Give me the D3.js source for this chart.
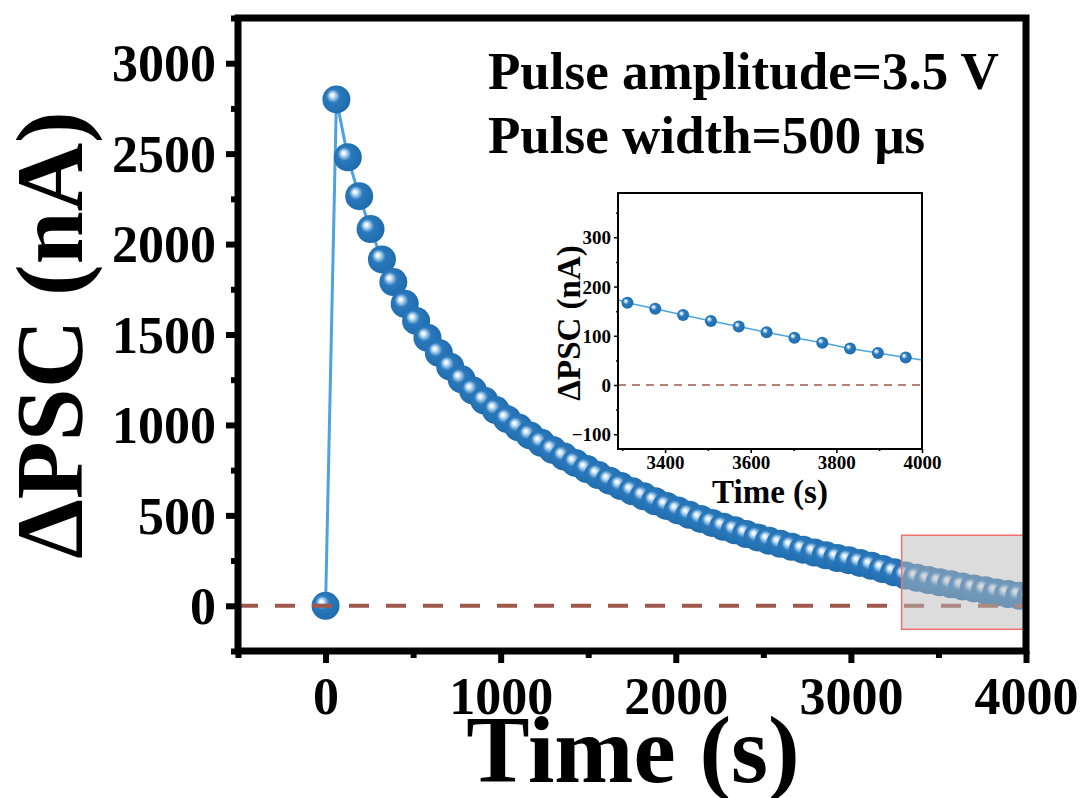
<!DOCTYPE html>
<html>
<head>
<meta charset="utf-8">
<script src="https://cdn.jsdelivr.net/npm/d3@7"></script>
<style>
  body { margin: 0; background: #fff; }
  text { font-family: "Liberation Serif", "Times New Roman", serif; font-weight: bold; }
</style>
</head>
<body>
<div id="chart"></div>
<script>
/***** data *****/
var times = [0, 62, 127, 192, 257, 322, 387, 452, 517, 582, 647, 712, 777, 842, 907, 972,
  1037, 1102, 1167, 1232, 1297, 1362, 1427, 1492, 1557, 1622, 1687, 1752, 1817, 1882, 1947,
  2012, 2077, 2142, 2207, 2272, 2337, 2402, 2467, 2532, 2597, 2662, 2727, 2792, 2857, 2922,
  2987, 3052, 3117, 3182, 3247, 3312, 3377, 3442, 3507, 3572, 3637, 3702, 3767, 3832, 3897,
  3962, 4027];
var psc = [0, 2800, 2480, 2265, 2083, 1915, 1790, 1670, 1575, 1482, 1398, 1322, 1252, 1190,
  1134, 1082, 1032, 986, 942, 901, 862, 825, 790, 756, 723, 692, 662, 633, 605, 578, 552,
  527, 503, 480, 458, 437, 417, 397, 378, 360, 343, 326, 310, 294, 279, 264, 252, 237, 221,
  203, 185, 167, 155, 142, 130, 119, 107, 96, 86, 74, 65, 56, 47];

var xTicks = [0, 1000, 2000, 3000, 4000];
var xMinor = [-500, 500, 1500, 2500, 3500];
var yTicks = [0, 500, 1000, 1500, 2000, 2500, 3000];
var yMinor = [-250, 250, 750, 1250, 1750, 2250, 2750, 3250];

var insetXTicks = [3400, 3600, 3800, 4000];
var insetXMinor = [3300, 3500, 3700, 3900];
var insetYTicks = [-100, 0, 100, 200, 300];
var insetYMinor = [-50, 50, 150, 250, 350];

var notes = ["Pulse amplitude=3.5 V", "Pulse width=500 \u03bcs"];

var data = times.map(function(t, i) { return {t: t, v: psc[i]}; });

/***** svg *****/
var W = 1086, H = 798;
var svg = d3.select("#chart").append("svg")
  .attr("width", W)
  .attr("height", H);

// sphere gradient for markers
var defs = svg.append("defs");
var grad = defs.append("radialGradient")
  .attr("id", "ball")
  .attr("cx", "0.45").attr("cy", "0.45").attr("r", "0.58")
  .attr("fx", "0.34").attr("fy", "0.34");
grad.append("stop").attr("offset", "0").attr("stop-color", "#ffffff");
grad.append("stop").attr("offset", "0.1").attr("stop-color", "#eaf3fb");
grad.append("stop").attr("offset", "0.26").attr("stop-color", "#86b8e0");
grad.append("stop").attr("offset", "0.42").attr("stop-color", "#2a79bc");
grad.append("stop").attr("offset", "1").attr("stop-color", "#1e6bac");

var fmt = d3.format("d");

/************ main chart ************/
var x = d3.scaleLinear().domain([-500, 4000]).range([238, 1026]);
var y = d3.scaleLinear().domain([-250, 3250]).range([651, 18]);

defs.append("clipPath").attr("id", "mainClip")
  .append("rect")
  .attr("x", x(-500)).attr("y", y(3250))
  .attr("width", x(4000) - x(-500)).attr("height", y(-250) - y(3250));

var plot = svg.append("g").attr("clip-path", "url(#mainClip)");

var line = d3.line()
  .x(function(d) { return x(d.t); })
  .y(function(d) { return y(d.v); });

plot.append("path")
  .datum(data)
  .attr("d", line)
  .attr("fill", "none")
  .attr("stroke", "#4da3e0")
  .attr("stroke-width", 3);

plot.selectAll("circle.pt")
  .data(data)
  .enter()
  .append("circle")
  .attr("class", "pt")
  .attr("cx", function(d) { return x(d.t); })
  .attr("cy", function(d) { return y(d.v); })
  .attr("r", 14)
  .attr("fill", "url(#ball)");

// zero line
plot.append("line")
  .attr("x1", x(-500)).attr("x2", x(4000))
  .attr("y1", y(0)).attr("y2", y(0))
  .attr("stroke", "#a0584c")
  .attr("stroke-width", 4)
  .attr("stroke-dasharray", "20,17");

// zoom box (inset domain)
var insetXDomain = [3290, 4000];
var insetYDomain = [-130, 390];
plot.append("rect")
  .attr("x", x(insetXDomain[0]))
  .attr("y", y(insetYDomain[1]))
  .attr("width", x(insetXDomain[1]) - x(insetXDomain[0]))
  .attr("height", y(insetYDomain[0]) - y(insetYDomain[1]))
  .attr("fill", "rgb(185,185,185)")
  .attr("fill-opacity", 0.5)
  .attr("stroke", "#f07070")
  .attr("stroke-width", 1.5);

// axes
var xAxis = d3.axisBottom(x).tickValues(xTicks).tickSize(12).tickPadding(14).tickFormat(fmt);
var xAxisMinor = d3.axisBottom(x).tickValues(xMinor).tickSize(7).tickFormat("");
var yAxis = d3.axisLeft(y).tickValues(yTicks).tickSize(12).tickPadding(10).tickFormat(fmt);
var yAxisMinor = d3.axisLeft(y).tickValues(yMinor).tickSize(7).tickFormat("");

function styleAxis(g, fs) {
  g.select(".domain").remove();
  g.selectAll("line").attr("stroke", "#000");
  g.selectAll("text").attr("fill", "#000").style("font-size", fs + "px");
}

svg.append("g").attr("transform", "translate(0," + y(-250) + ")").call(xAxis)
  .call(styleAxis, 52)
  .call(function(g) { g.selectAll("line").attr("stroke-width", 6); });
svg.append("g").attr("transform", "translate(0," + y(-250) + ")").call(xAxisMinor)
  .call(styleAxis, 52)
  .call(function(g) { g.selectAll("line").attr("stroke-width", 6); });
svg.append("g").attr("transform", "translate(" + x(-500) + ",0)").call(yAxis)
  .call(styleAxis, 52)
  .call(function(g) { g.selectAll("line").attr("stroke-width", 6); g.selectAll("text").attr("dy", "0.34em"); });
svg.append("g").attr("transform", "translate(" + x(-500) + ",0)").call(yAxisMinor)
  .call(styleAxis, 52)
  .call(function(g) { g.selectAll("line").attr("stroke-width", 6); });

// frame
svg.append("rect")
  .attr("x", x(-500)).attr("y", y(3250))
  .attr("width", x(4000) - x(-500)).attr("height", y(-250) - y(3250))
  .attr("fill", "none")
  .attr("stroke", "#000")
  .attr("stroke-width", 7);

// axis titles
svg.append("text")
  .attr("x", 633).attr("y", 782)
  .attr("text-anchor", "middle")
  .style("font-size", "95px")
  .text("Time (s)");
svg.append("text")
  .attr("transform", "translate(82,335) rotate(-90)")
  .attr("text-anchor", "middle")
  .style("font-size", "95px")
  .text("\u0394PSC (nA)");

// annotations
svg.selectAll("text.note")
  .data(notes)
  .enter()
  .append("text")
  .attr("class", "note")
  .attr("x", 488)
  .attr("y", function(d, i) { return 89 + i * 64; })
  .style("font-size", "53px")
  .text(function(d) { return d; });

/************ inset ************/
var xi = d3.scaleLinear().domain(insetXDomain).range([618, 922]);
var yi = d3.scaleLinear().domain(insetYDomain).range([449, 193]);

svg.append("rect")
  .attr("x", xi(insetXDomain[0])).attr("y", yi(insetYDomain[1]))
  .attr("width", xi(insetXDomain[1]) - xi(insetXDomain[0]))
  .attr("height", yi(insetYDomain[0]) - yi(insetYDomain[1]))
  .attr("fill", "#fff");

defs.append("clipPath").attr("id", "insetClip")
  .append("rect")
  .attr("x", xi(insetXDomain[0])).attr("y", yi(insetYDomain[1]))
  .attr("width", xi(insetXDomain[1]) - xi(insetXDomain[0]))
  .attr("height", yi(insetYDomain[0]) - yi(insetYDomain[1]));

var inset = svg.append("g").attr("clip-path", "url(#insetClip)");

var lineI = d3.line()
  .x(function(d) { return xi(d.t); })
  .y(function(d) { return yi(d.v); });

inset.append("line")
  .attr("x1", xi(insetXDomain[0])).attr("x2", xi(insetXDomain[1]))
  .attr("y1", yi(0)).attr("y2", yi(0))
  .attr("stroke", "#a0584c")
  .attr("stroke-width", 1.5)
  .attr("stroke-dasharray", "8,6");

inset.append("path")
  .datum(data)
  .attr("d", lineI)
  .attr("fill", "none")
  .attr("stroke", "#4da3e0")
  .attr("stroke-width", 1.5);

inset.selectAll("circle")
  .data(data.filter(function(d) { return d.t >= insetXDomain[0] && d.t <= insetXDomain[1]; }))
  .enter()
  .append("circle")
  .attr("cx", function(d) { return xi(d.t); })
  .attr("cy", function(d) { return yi(d.v); })
  .attr("r", 6)
  .attr("fill", "url(#ball)");

var xiAxis = d3.axisBottom(xi).tickValues(insetXTicks).tickSize(4).tickPadding(3).tickFormat(fmt);
var xiMinor = d3.axisBottom(xi).tickValues(insetXMinor).tickSize(2).tickFormat("");
var yiAxis = d3.axisLeft(yi).tickValues(insetYTicks).tickSize(4).tickPadding(3).tickFormat(fmt);
var yiMinor = d3.axisLeft(yi).tickValues(insetYMinor).tickSize(2).tickFormat("");

[xiAxis, xiMinor].forEach(function(a) {
  svg.append("g").attr("transform", "translate(0," + yi(insetYDomain[0]) + ")").call(a)
    .call(styleAxis, 19)
    .call(function(g) { g.selectAll("line").attr("stroke-width", 1.5); });
});
[yiAxis, yiMinor].forEach(function(a) {
  svg.append("g").attr("transform", "translate(" + xi(insetXDomain[0]) + ",0)").call(a)
    .call(styleAxis, 19)
    .call(function(g) { g.selectAll("line").attr("stroke-width", 1.5); g.selectAll("text").attr("dy", "0.34em"); });
});

svg.append("rect")
  .attr("x", xi(insetXDomain[0])).attr("y", yi(insetYDomain[1]))
  .attr("width", xi(insetXDomain[1]) - xi(insetXDomain[0]))
  .attr("height", yi(insetYDomain[0]) - yi(insetYDomain[1]))
  .attr("fill", "none")
  .attr("stroke", "#000")
  .attr("stroke-width", 2);

svg.append("text")
  .attr("x", 770).attr("y", 503)
  .attr("text-anchor", "middle")
  .style("font-size", "33px")
  .text("Time (s)");
svg.append("text")
  .attr("transform", "translate(580,323) rotate(-90)")
  .attr("text-anchor", "middle")
  .style("font-size", "33px")
  .text("\u0394PSC (nA)");
</script>
</body>
</html>
